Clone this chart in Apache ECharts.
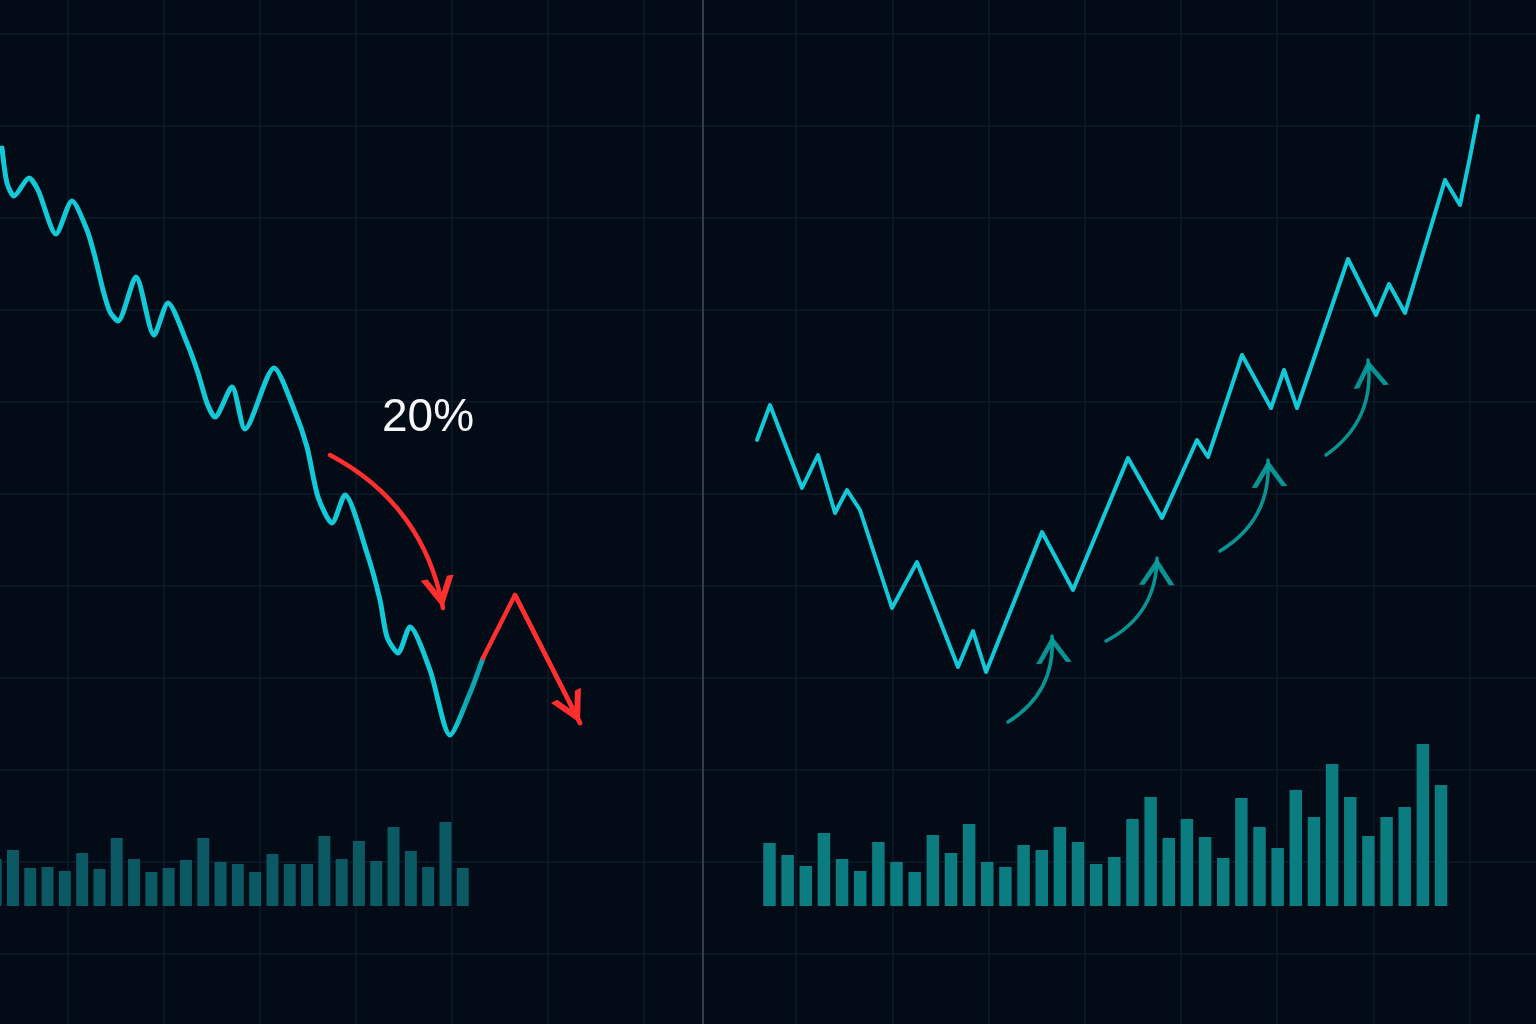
<!DOCTYPE html>
<html><head><meta charset="utf-8">
<script src="https://cdn.jsdelivr.net/npm/echarts@6/dist/echarts.min.js"></script>
<style>html,body{margin:0;padding:0;background:#020b16;}#c{width:1536px;height:1024px;}</style>
</head><body><div id="c"></div>
<script>
// ---- data (x = time step, y = price) ----
const leftLine = [[0.4,105.2],[1.4,101.7],[2.8,100.4],[5.8,102.2],[7.6,101.0],[11.2,96.6],[14.4,99.9],[17.4,97.0],[19.0,94.3],[20.6,91.0],[22.0,88.8],[23.6,87.9],[27.2,92.3],[30.8,86.5],[33.6,89.7],[37.4,85.7],[39.6,82.7],[41.4,79.7],[43.0,78.3],[46.4,81.3],[49.0,77.1],[54.8,83.2],[59.0,78.8],[61.4,75.3],[63.6,70.3],[66.4,67.7],[69.0,70.5],[73.4,64.7],[76.0,60.0],[77.4,56.3],[79.6,54.7],[82.0,57.3],[86.0,53.0],[90.0,46.5],[94.0,50.7],[96.6,54.2]];
const redLine = [[96.6,54.2],[103.0,60.5],[116.0,47.7]];
const rightLine = [[10.8,76.0],[13.4,79.5],[19.8,71.2],[23.0,74.5],[26.4,68.7],[28.8,71.0],[31.4,69.0],[37.8,59.2],[42.8,63.8],[51.0,53.3],[54.0,56.9],[56.6,52.8],[67.8,66.8],[74.0,61.0],[85.0,74.2],[91.8,68.2],[98.8,76.0],[101.0,74.3],[107.8,84.5],[113.6,79.2],[116.2,83.0],[118.8,79.2],[129.0,94.1],[134.6,88.5],[137.2,91.6],[140.4,88.7],[148.4,102.0],[151.4,99.5],[153.4,104.3],[155.0,108.4]];
const leftVolume = [23.5,28,19,19.5,17.5,26.5,18.5,34,23.5,17,19,23,34,22,21,17,26,21,21,35,23.5,32.5,22.5,39.5,27.5,19.5,42,19];
const rightVolume = [31.5,25.5,20,36.5,23.5,17.5,32,22,17,35.5,26.5,41,22,19.5,30.5,28,39.5,32,21,24.5,43.5,54.5,34,43.5,34.5,24,54,39.5,29,58,44.5,71,54.5,35,44.5,49.5,81,60.5];
const redArrow = [[66.0,74.5],[88.6,59.2]];
const tealArrows = [[[61.0,47.8],[69.8,56.4]],[[80.6,55.9],[90.8,64.2]],[[103.4,64.9],[113.0,74.0]],[[124.6,74.5],[133.0,84.0]]];
const dropLabel = {text:'20%', at:[85.6,78.2]};

const leftCats = leftVolume.map((v,i)=>String(i+1));
const rightCats = rightVolume.map((v,i)=>String(i+1));

// ---- styles ----
const BG = '#020b16';
const GRIDC = '#0d1c2b';
const CYAN = '#13c9d7';
const RED = '#ff2f2f';
const TEAL = 'rgba(12,158,158,0.92)';
// left line dims to teal after the final low (horizontal gradient in pixels)
const LEFT_STROKE = new echarts.graphic.LinearGradient(0, 0, 703, 0, [
  {offset:0, color:CYAN},{offset:0.645, color:CYAN},{offset:0.665, color:'#0ba6ad'},{offset:1, color:'#0a9ca2'}
], true);
// chevron heads (open V), tip at the centre of the path's box
const RED_HEAD = 'path://M18.5,15 L28.5,30 L24.45,30 L18.5,21.1 L12.55,30 L8.5,30 Z M0,0 L0.01,0 M37,0 L36.99,0';
const TEAL_HEAD = 'path://M15.15,15 L25.15,30 L22.01,30 L15.15,19.8 L8.29,30 L5.15,30 Z M0,0 L0.01,0 M30.3,0 L30.29,0';

const hidden = {axisLine:{show:false},axisTick:{show:false},axisLabel:{show:false},splitLine:{show:false}};
function bgX(grid, max, interval){
  return Object.assign({}, hidden, {gridIndex:grid,type:'value',min:0,max:max,interval:interval,
    splitLine:{show:true,showMinLine:false,showMaxLine:false,lineStyle:{color:GRIDC,width:1.5}}});
}
function bgY(grid, divider){
  return Object.assign({}, hidden, {gridIndex:grid,type:'value',inverse:true,min:0,max:1082,interval:92,position:'right',
    axisLine:{show:divider,onZero:false,lineStyle:{color:'#343c46',width:2}},
    splitLine:{show:true,showMinLine:false,showMaxLine:false,lineStyle:{color:GRIDC,width:1.5}}});
}
function g(o){ return Object.assign({outerBoundsMode:'none',containLabel:false}, o); }

const chart = echarts.init(document.getElementById('c'), null, {renderer:'canvas'});
chart.setOption({
  backgroundColor: BG,
  animation:false,
  grid:[
    g({left:-28,top:-58,width:731,height:1082}),
    g({left:700,top:-58,width:836,height:1082}),
    g({left:0,top:100,width:700,height:700}),
    g({left:703,top:100,width:800,height:700}),
    g({left:-13,top:700,width:484.4,height:206}),
    g({left:760.4,top:700,width:689.7,height:206})
  ],
  xAxis:[
    bgX(0,731,96),
    bgX(1,836,96.2),
    Object.assign({},hidden,{gridIndex:2,type:'value',min:0,max:140}),
    Object.assign({},hidden,{gridIndex:3,type:'value',min:0,max:160}),
    Object.assign({},hidden,{gridIndex:4,type:'category',data:leftCats}),
    Object.assign({},hidden,{gridIndex:5,type:'category',data:rightCats})
  ],
  yAxis:[
    bgY(0,true),
    bgY(1,false),
    Object.assign({},hidden,{gridIndex:2,type:'value',min:40,max:110}),
    Object.assign({},hidden,{gridIndex:3,type:'value',min:40,max:110}),
    Object.assign({},hidden,{gridIndex:4,type:'value',min:0,max:103}),
    Object.assign({},hidden,{gridIndex:5,type:'value',min:0,max:103})
  ],
  series:[
    {type:'bar',xAxisIndex:4,yAxisIndex:4,data:leftVolume,barWidth:12,silent:true,
      itemStyle:{color:'#0b5962'}},
    {type:'bar',xAxisIndex:5,yAxisIndex:5,data:rightVolume,barWidth:12.5,silent:true,
      itemStyle:{color:'#0b7c7f'}},
    {type:'line',xAxisIndex:2,yAxisIndex:2,data:leftLine,smooth:0.25,showSymbol:false,silent:true,
      lineStyle:{color:LEFT_STROKE,width:5,join:'round',cap:'round'},
      markPoint:{silent:true,symbol:'circle',symbolSize:1,itemStyle:{color:'rgba(0,0,0,0)'},
        label:{show:true,position:'inside',formatter:dropLabel.text,color:'#f5f7fa',fontSize:46,
          fontFamily:'Liberation Sans, Arial, sans-serif',fontWeight:'normal'},
        data:[{coord:dropLabel.at}]}},
    {type:'line',xAxisIndex:2,yAxisIndex:2,data:redLine,showSymbol:false,silent:true,
      lineStyle:{color:RED,width:4.5,join:'round',cap:'round'}},
    {type:'line',xAxisIndex:3,yAxisIndex:3,data:rightLine,showSymbol:false,silent:true,
      lineStyle:{color:CYAN,width:4,join:'round',cap:'round'}},
    // red annotation arrows (curved one + head on the red path)
    {type:'lines',coordinateSystem:'cartesian2d',xAxisIndex:2,yAxisIndex:2,silent:true,
      symbol:['none',RED_HEAD],symbolSize:62,
      lineStyle:{color:RED,width:4.5,opacity:1,cap:'round'},itemStyle:{color:RED},
      data:[
        {coords:redArrow,lineStyle:{curveness:0.24}},
        {coords:redLine.slice(1),lineStyle:{curveness:0}}
      ]},
    // teal rising arrows
    {type:'lines',coordinateSystem:'cartesian2d',xAxisIndex:3,yAxisIndex:3,silent:true,
      symbol:['none',TEAL_HEAD],symbolSize:54,
      lineStyle:{color:TEAL,width:3.5,opacity:1,curveness:-0.3,cap:'round'},itemStyle:{color:TEAL},
      data:tealArrows.map(a=>({coords:a}))}
  ]
});
</script></body></html>
